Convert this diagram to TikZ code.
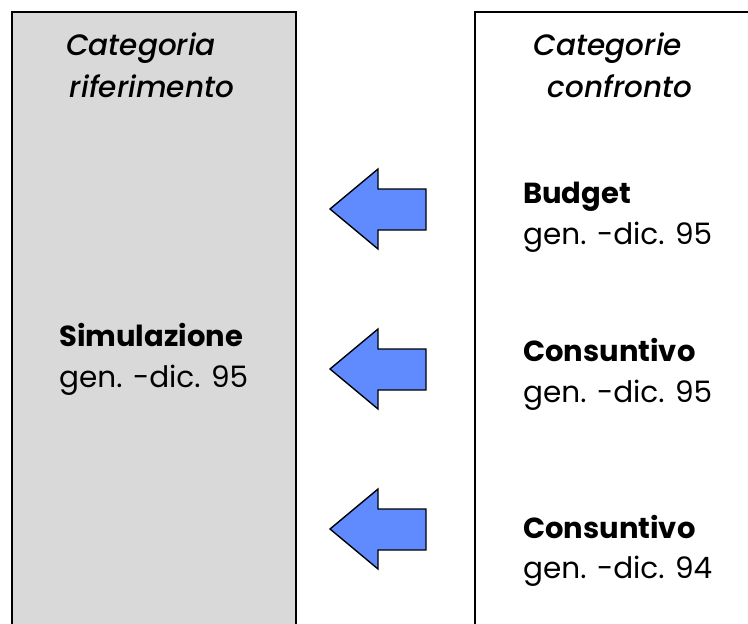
\documentclass[tikz,border=0pt]{standalone}
\usepackage{fontspec}
\setmainfont{Poppins}
\newfontfamily\headfont{Poppins Medium Italic}
\definecolor{arrowblue}{RGB}{95,139,255}
\definecolor{panelgray}{RGB}{217,217,217}
\tikzset{
    panel/.style={draw=black, line width=1.6pt},
    headtext/.style={inner sep=0pt, anchor=base, font=\fontsize{29.5}{35}\headfont},
    nametext/.style={inner sep=0pt, anchor=base west, font=\fontsize{29}{35}\selectfont\bfseries},
    datetext/.style={inner sep=0pt, anchor=base west, font=\fontsize{29.5}{35}\selectfont},
    leftarrow/.style={draw=black, line width=1.4pt, fill=arrowblue, line join=miter}
}

\begin{document}
\begin{tikzpicture}[x=1pt, y=-1pt]
        \useasboundingbox (0, 0) rectangle (748, 624);
        % the two panels, open at the bottom
        \draw [panel, fill=panelgray] (12, 12) rectangle (296, 680);
        \draw [panel] (475, 12) rectangle (820, 680);
        \node [headtext] (refhead1) at (141, 55) {Categoria};
        \node [headtext] (refhead2) at (152, 97) {riferimento};
        \node [headtext] (cmphead1) at (608, 55) {Categorie};
        \node [headtext] (cmphead2) at (620, 97) {confronto};
        \node [nametext] (sim) at (59, 346) {Simulazione};
        \node [datetext] (simdate) at (59, 387) {gen. -dic. 95};
        \node [nametext] (budget) at (523, 203) {Budget};
        \node [datetext] (budgetdate) at (523, 244) {gen. -dic. 95};
        \node [nametext] (cons95) at (523, 361) {Consuntivo};
        \node [datetext] (cons95date) at (523, 402) {gen. -dic. 95};
        \node [nametext] (cons94) at (523, 538) {Consuntivo};
        \node [datetext] (cons94date) at (523, 578) {gen. -dic. 94};
        % block arrows pointing at the reference panel
        \foreach \y in {209, 369, 529}
            \draw [leftarrow] (330, \y) -- (378, \y-40) -- (378, \y-20) -- (426, \y-20)
                -- (426, \y+21) -- (378, \y+21) -- (378, \y+40) -- cycle;
    \end{tikzpicture}
\end{document}
